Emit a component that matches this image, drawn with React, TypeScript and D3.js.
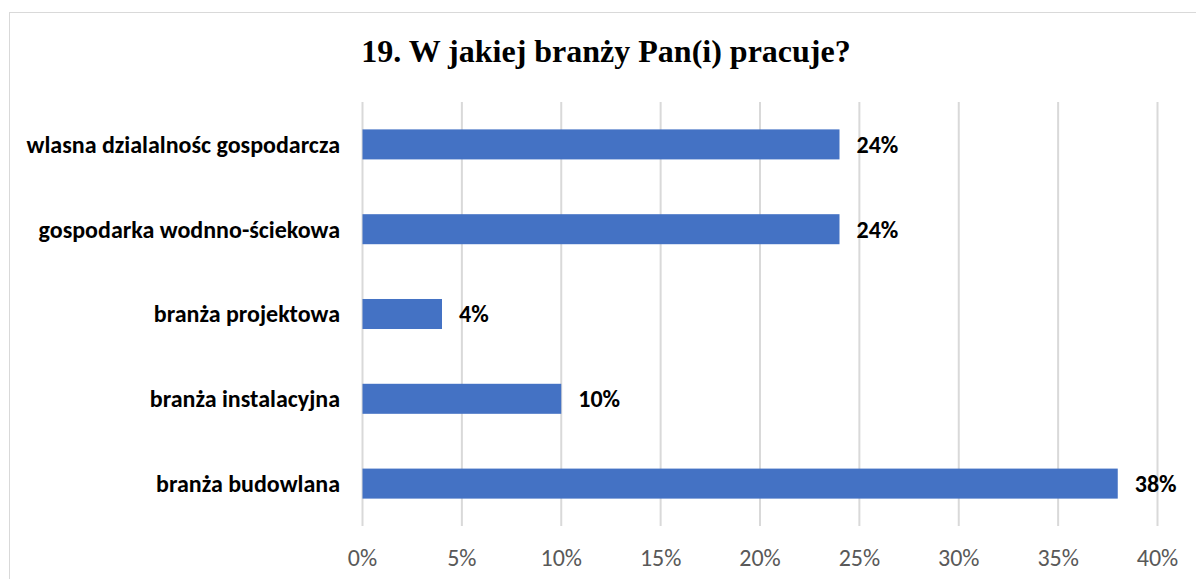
import React from "react";
import * as d3 from "d3";

const categories = [
  "wlasna dzialalnośc gospodarcza",
  "gospodarka wodnno-ściekowa",
  "branża projektowa",
  "branża instalacyjna",
  "branża budowlana",
];
const values = [24, 24, 4, 10, 38];
const tickValues = [0, 5, 10, 15, 20, 25, 30, 35, 40];
const title = "19. W jakiej branży Pan(i) pracuje?";

const W = 1196;
const H = 579;
const plotLeft = 362.5;
const plotRight = 1157.5;
const plotTop = 102;
const plotBottom = 526;

export default function App() {
  const x = d3.scaleLinear().domain([0, 40]).range([plotLeft, plotRight]);
  const y = d3
    .scaleBand<string>()
    .domain(categories)
    .range([plotTop, plotBottom])
    .paddingInner(0.646)
    .paddingOuter(0.323);
  const sans = "Calibri, Carlito, Lato, 'Open Sans', sans-serif";
  return (
    <svg
      width={W}
      height={H}
      style={{ position: "absolute", left: 0, top: 0, background: "#fff" }}
    >
      <rect x={9.5} y={12.5} width={W + 10} height={H + 10} fill="#fff" stroke="#d9d9d9" strokeWidth={1} />
      <text
        x={606}
        y={62}
        textAnchor="middle"
        fontFamily="'Liberation Serif', 'Times New Roman', serif"
        fontWeight="bold"
        fontSize={32}
        fill="#000"
      >
        {title}
      </text>
      {tickValues.map((t) => (
        <g key={t}>
          <line
            x1={x(t)}
            x2={x(t)}
            y1={plotTop}
            y2={plotBottom}
            stroke="#d9d9d9"
            strokeWidth={2}
          />
          <text
            x={x(t)}
            y={566}
            textAnchor="middle"
            fontFamily={sans}
            fontSize={24}
            fill="#595959"
          >
            {t + "%"}
          </text>
        </g>
      ))}
      {categories.map((c, i) => (
        <g key={c}>
          <rect
            x={x(0)}
            y={y(c)!}
            width={x(values[i]) - x(0)}
            height={y.bandwidth()}
            fill="#4472c4"
          />
          <text
            x={340}
            y={y(c)! + y.bandwidth() / 2}
            dy="0.35em"
            textAnchor="end"
            fontFamily={sans}
            fontWeight="bold"
            fontSize={24}
            fill="#000"
          >
            {c}
          </text>
          <text
            x={x(values[i]) + 17}
            y={y(c)! + y.bandwidth() / 2}
            dy="0.35em"
            textAnchor="start"
            fontFamily={sans}
            fontWeight="bold"
            fontSize={24}
            fill="#000"
          >
            {values[i] + "%"}
          </text>
        </g>
      ))}
    </svg>
  );
}
